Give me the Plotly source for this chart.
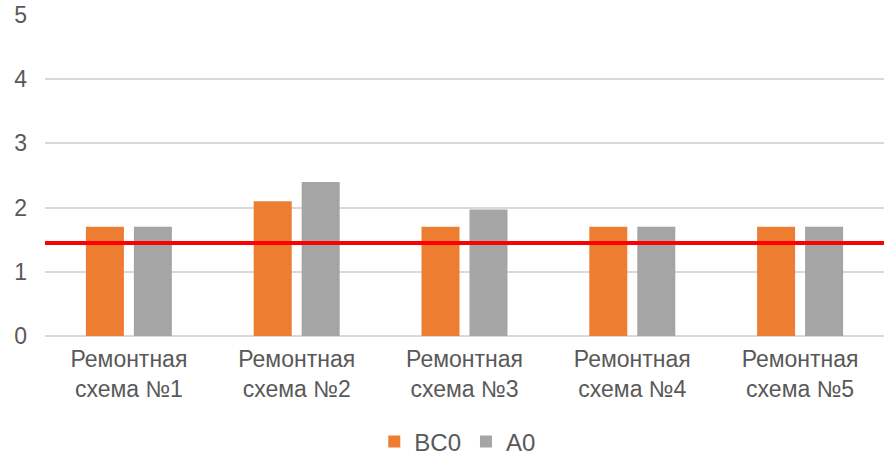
import plotly.graph_objects as go

categories = ["Ремонтная<br>схема №1", "Ремонтная<br>схема №2", "Ремонтная<br>схема №3",
              "Ремонтная<br>схема №4", "Ремонтная<br>схема №5"]
bc0_values = [1.7, 2.1, 1.7, 1.7, 1.7]
a0_values = [1.7, 2.4, 1.97, 1.7, 1.7]
threshold = 1.45
y_ticks = [0, 1, 2, 3, 4, 5]

font_family = "Liberation Sans, Arial, sans-serif"
text_color = "#595959"
font_size = 23

fig = go.Figure()
fig.add_trace(go.Bar(name="BC0", x=categories, y=bc0_values,
                     marker=dict(color="#ED7D31", line=dict(width=0))))
fig.add_trace(go.Bar(name="A0", x=categories, y=a0_values,
                     marker=dict(color="#A5A5A5", line=dict(width=0))))

# horizontal reference level across the full plot width
fig.add_shape(type="line", xref="paper", x0=0, x1=1, yref="y", y0=threshold, y1=threshold,
              line=dict(color="#FF0000", width=4), layer="above")

fig.update_layout(
    width=884, height=455,
    margin=dict(l=45, r=0, t=15, b=119, autoexpand=False),
    paper_bgcolor="white", plot_bgcolor="white",
    barmode="group", bargap=0.428, bargroupgap=0.208,
    font=dict(family=font_family, size=font_size, color=text_color),
    showlegend=True,
    legend=dict(orientation="h", x=0.492, xanchor="center", y=-0.33, yanchor="middle",
                font=dict(size=24, color=text_color), itemwidth=30),
    xaxis=dict(showgrid=False, showline=False, ticks="", ticklabelstandoff=7,
               automargin=False, tickfont=dict(size=font_size, color=text_color)),
    yaxis=dict(range=[0, 5], tickvals=y_ticks, showgrid=True, gridcolor="#D9D9D9",
               gridwidth=1.5, zeroline=True, zerolinecolor="#D9D9D9", zerolinewidth=1.5,
               showline=False, ticks="", ticklabelstandoff=17, automargin=False,
               tickfont=dict(size=font_size, color=text_color)),
)

fig.write_html("out.html")
